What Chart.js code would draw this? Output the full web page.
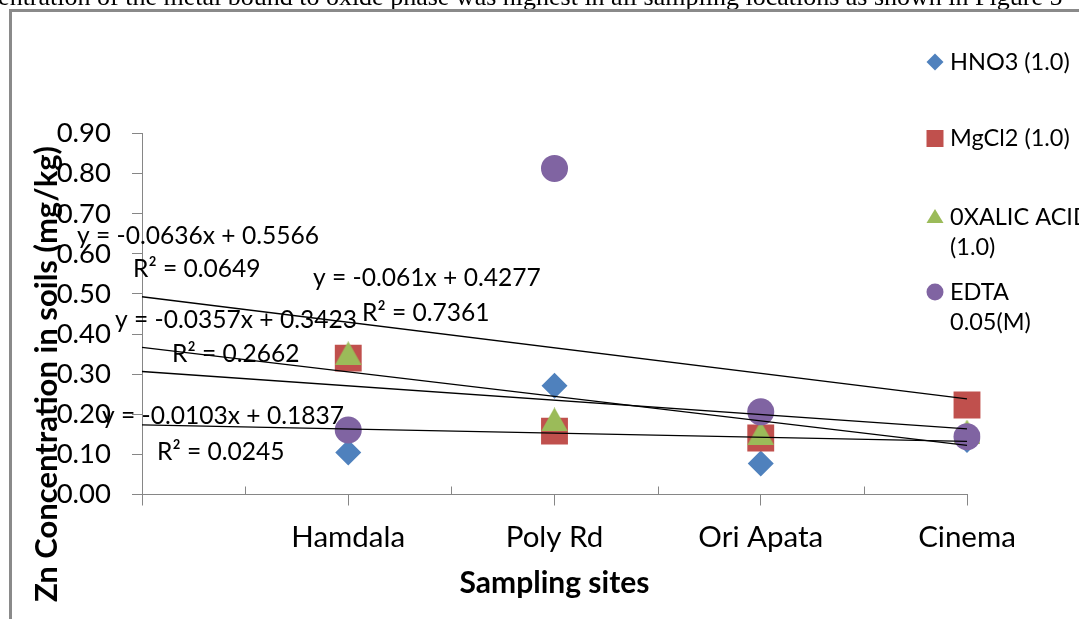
<!DOCTYPE html>
<html><head><meta charset="utf-8">
<script src="https://cdn.jsdelivr.net/npm/chart.js@4.4.1/dist/chart.umd.min.js"></script>
<style>html,body{margin:0;padding:0;background:#fff;overflow:hidden}#wrap{width:1079px;height:619px;position:relative}canvas{display:block}</style>
</head><body><div id="wrap"><canvas id="c" width="1079" height="619"></canvas></div>
<script>
// ---- data ----
const sites = ['Hamdala', 'Poly Rd', 'Ori Apata', 'Cinema'];
const hno3 = [0.105, 0.271, 0.077, 0.136];
const mgcl2 = [0.340, 0.158, 0.141, 0.223];
const oxalic = [0.352, 0.187, 0.153, 0.157];
const edta = [0.161, 0.813, 0.206, 0.144];
const seriesNames = ['HNO3 (1.0)', 'MgCl2 (1.0)', '0XALIC ACID (1.0)', 'EDTA 0.05(M)'];
const legendLines = [['HNO3 (1.0)'], ['MgCl2 (1.0)'], ['0XALIC ACID', '(1.0)'], ['EDTA', '0.05(M)']];
const trendSlopes = [-0.0103, -0.0357, -0.061, -0.0636];
const trendIntercepts = [0.1837, 0.3423, 0.4277, 0.5566];
const trendR2 = ['0.0245', '0.2662', '0.7361', '0.0649'];
const yMin = 0, yMax = 0.9, yStep = 0.1;
const yTitle = 'Zn Concentration in soils (mg/kg)';
const xTitle = 'Sampling sites';
const caption = 'concentration of the metal bound to oxide phase was highest in all sampling locations as shown in Figure 5';

// ---- styling ----
const colors = ['#4F81BD', '#C0504D', '#9BBB59', '#8064A2'];
const FONT = 'Lato';
const axisGray = '#868686';

function triangleCanvas(w, h, color) {
  const c = document.createElement('canvas');
  c.width = w; c.height = h;
  const g = c.getContext('2d');
  g.fillStyle = color;
  g.beginPath(); g.moveTo(w / 2, 0); g.lineTo(w, h); g.lineTo(0, h); g.closePath(); g.fill();
  return c;
}
const triMarker = triangleCanvas(27, 24, colors[2]);

const labels = [''].concat(sites);
const padSeries = arr => [null].concat(arr);
const trendData = (m, b) => labels.map((_, i) => (i === 0 || i === labels.length - 1) ? +(m * (i + 1) + b).toFixed(4) : null);

const series = [hno3, mgcl2, oxalic, edta];
const styles = [
  { pointStyle: 'rectRot', radius: 13 },
  { pointStyle: 'rect', radius: 19 },
  { pointStyle: triMarker, radius: 13 },
  { pointStyle: 'circle', radius: 13.5 }
];

const datasets = series.map((s, i) => ({
  label: seriesNames[i],
  data: padSeries(s),
  showLine: false,
  pointStyle: styles[i].pointStyle,
  pointRadius: styles[i].radius,
  pointHoverRadius: styles[i].radius,
  pointBackgroundColor: colors[i],
  pointBorderWidth: 0,
  borderColor: colors[i],
  backgroundColor: colors[i],
  order: 4 - i
}));
trendSlopes.forEach((m, i) => {
  datasets.push({
    label: 'trend ' + seriesNames[i],
    data: trendData(m, trendIntercepts[i]),
    spanGaps: true,
    borderColor: '#000',
    borderWidth: 1.3,
    pointRadius: 0,
    fill: false,
    order: -1
  });
});

// equation label positions (left x, middle y) per series
const eqPos = [
  [[102, 416], [157, 452]],
  [[115, 320], [172, 354]],
  [[313, 278], [362, 313]],
  [[77, 236], [133, 269]]
];
const legendPos = [[935, 62], [935, 138.5], [935, 217], [935, 292]];
const legendLineGap = 30;

const decor = {
  id: 'decor',
  beforeDraw(chart) {
    const ctx = chart.ctx;
    ctx.save();
    ctx.fillStyle = '#fff';
    ctx.fillRect(0, 0, chart.width, chart.height);
    // caption (cut-off line of document text)
    ctx.font = '26px "Liberation Serif"';
    ctx.fillStyle = '#000';
    ctx.textBaseline = 'alphabetic';
    const pre = ctx.measureText('concentration ').width;
    ctx.fillText(caption, 97 - pre, 5);
    // frame
    ctx.fillStyle = '#8a8a8a';
    ctx.fillRect(9, 9, chart.width - 9, 3);
    ctx.fillRect(9, 9, 3, chart.height - 9);
    ctx.restore();
  },
  afterDraw(chart) {
    const ctx = chart.ctx;
    const xs = chart.scales.x, area = chart.chartArea;
    ctx.save();
    // short upward ticks between categories
    ctx.strokeStyle = axisGray; ctx.lineWidth = 1;
    for (let i = 0; i < labels.length - 1; i++) {
      const x = Math.round((xs.getPixelForValue(i) + xs.getPixelForValue(i + 1)) / 2) + 0.5;
      ctx.beginPath(); ctx.moveTo(x, area.bottom); ctx.lineTo(x, area.bottom - 8); ctx.stroke();
    }
    // trendline equations
    ctx.fillStyle = '#000';
    ctx.textBaseline = 'middle';
    ctx.textAlign = 'left';
    ctx.font = '24.6px ' + FONT;
    trendSlopes.forEach((m, i) => {
      ctx.fillText('y = ' + m + 'x + ' + trendIntercepts[i], eqPos[i][0][0], eqPos[i][0][1]);
      ctx.fillText('R\u00B2 = ' + trendR2[i], eqPos[i][1][0], eqPos[i][1][1]);
    });
    // y title
    ctx.save();
    ctx.translate(47, 374);
    ctx.rotate(-Math.PI / 2);
    ctx.textAlign = 'center';
    ctx.font = 'bold 31px ' + FONT;
    ctx.fillText(yTitle, 0, 0);
    ctx.restore();
    // legend
    ctx.font = '23.5px ' + FONT;
    legendLines.forEach((lines, i) => {
      const [lx, ly] = legendPos[i];
      ctx.fillStyle = colors[i];
      ctx.beginPath();
      if (i === 0) { ctx.moveTo(lx, ly - 8.5); ctx.lineTo(lx + 8.5, ly); ctx.lineTo(lx, ly + 8.5); ctx.lineTo(lx - 8.5, ly); ctx.closePath(); }
      else if (i === 1) { ctx.rect(lx - 8.5, ly - 8.5, 17, 17); }
      else if (i === 2) { ctx.moveTo(lx, ly - 8); ctx.lineTo(lx + 8.5, ly + 6); ctx.lineTo(lx - 8.5, ly + 6); ctx.closePath(); }
      else { ctx.arc(lx, ly, 8.5, 0, Math.PI * 2); }
      ctx.fill();
      ctx.fillStyle = '#000';
      lines.forEach((t, k) => ctx.fillText(t, 950, ly + k * legendLineGap));
    });
    ctx.restore();
  }
};

new Chart(document.getElementById('c'), {
  type: 'line',
  data: { labels, datasets },
  options: {
    responsive: false,
    animation: false,
    events: [],
    layout: { padding: { top: 133.5, right: 112, left: 0, bottom: 0 } },
    plugins: { legend: { display: false }, tooltip: { enabled: false } },
    scales: {
      x: {
        type: 'category',
        offset: false,
        grid: { drawOnChartArea: false, drawTicks: true, tickLength: 11, color: axisGray },
        border: { color: axisGray, width: 1 },
        ticks: { color: '#000', font: { family: FONT, size: 29.5 }, padding: 14, maxRotation: 0, autoSkip: false },
        title: { display: true, text: xTitle, color: '#000', font: { family: FONT, size: 30, weight: 'bold' }, padding: { top: 0, bottom: 18 } },
        afterFit(scale) { scale.height = 124.5; }
      },
      y: {
        min: yMin, max: yMax,
        grid: { drawOnChartArea: false, drawTicks: true, tickLength: 10, color: axisGray },
        border: { color: axisGray, width: 1 },
        ticks: { stepSize: yStep, color: '#000', font: { family: FONT, size: 27.5 }, padding: 21, callback: v => Number(v).toFixed(2) },
        afterFit(scale) { scale.width = 142; }
      }
    }
  },
  plugins: [decor]
});
</script>
</body></html>
